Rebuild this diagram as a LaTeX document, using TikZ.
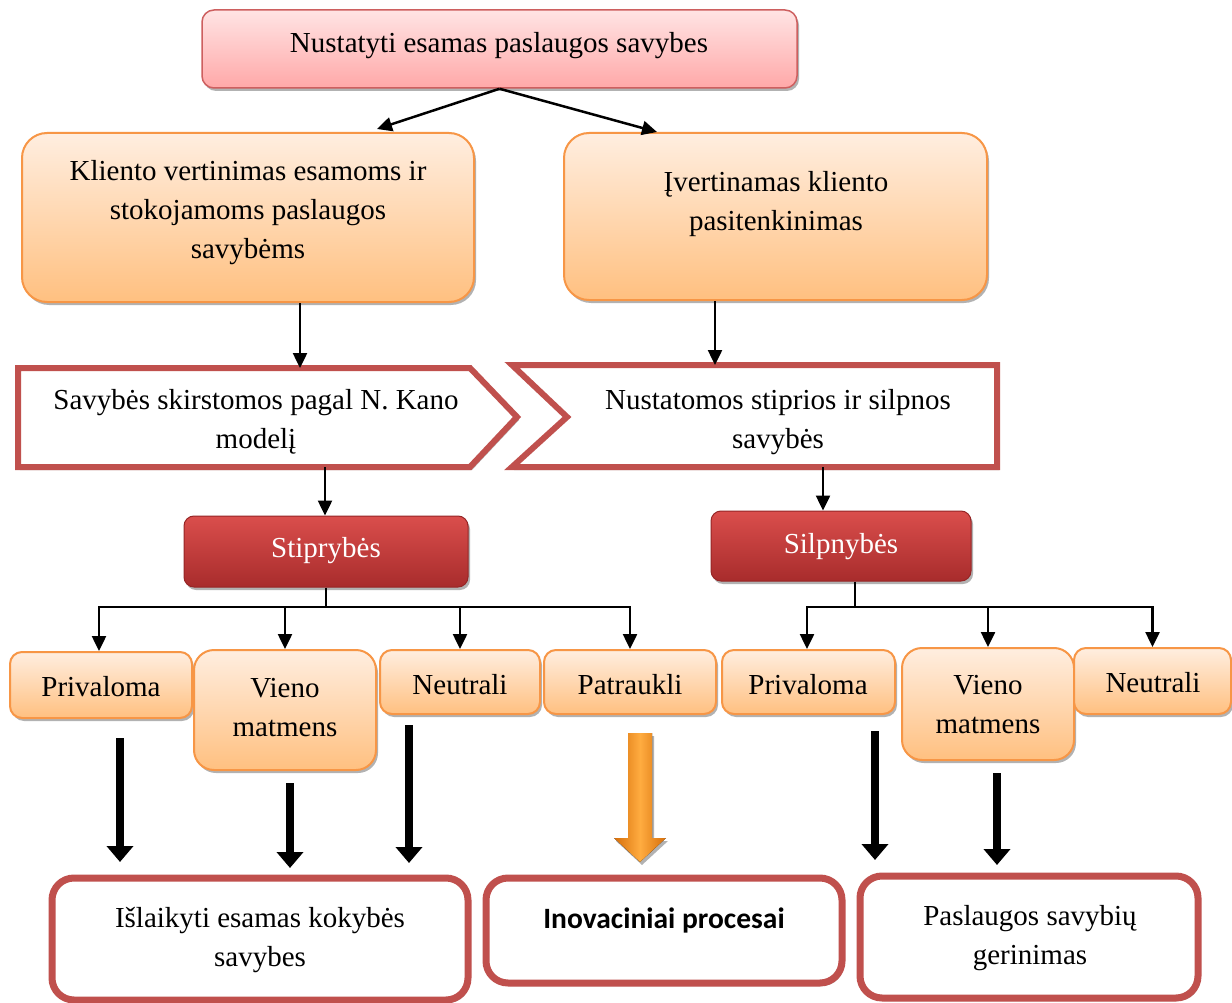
\documentclass[tikz,border=0pt]{standalone}
\usepackage{fontspec}
\setmainfont{Liberation Serif}
\newfontfamily\carl{Carlito}
\usetikzlibrary{arrows.meta,shadows,calc}
\definecolor{kred}{RGB}{192,80,77}
\definecolor{pinktop}{RGB}{255,228,228}
\definecolor{pinkbot}{RGB}{255,168,168}
\definecolor{pinkline}{RGB}{205,95,95}
\definecolor{otop}{RGB}{255,238,224}
\definecolor{obot}{RGB}{255,192,128}
\definecolor{oline}{RGB}{247,150,70}
\definecolor{rtop}{RGB}{218,78,76}
\definecolor{rbot}{RGB}{168,44,44}
\definecolor{rline}{RGB}{150,38,38}
\definecolor{arrD}{RGB}{214,110,10}
\definecolor{arrL}{RGB}{255,172,64}
\tikzset{
  shd/.style={drop shadow={shadow xshift=2pt,shadow yshift=-3pt,opacity=0.3,fill=black}},
  pinkbox/.style={draw=pinkline,line width=1.5pt,rounded corners=12pt,top color=pinktop,bottom color=pinkbot,shd},
  obox/.style={draw=oline,line width=2pt,top color=otop,bottom color=obot,shd},
  rbox/.style={draw=rline,line width=1pt,rounded corners=10pt,top color=rtop,bottom color=rbot,shd},
  wbox/.style={draw=kred,line width=7pt,rounded corners=22pt,fill=white,shd},
  chev/.style={draw=kred,line width=6pt,fill=white,shd},
  txt/.style={align=center,font=\fontsize{29}{39}\selectfont,inner sep=0pt,yshift=-3pt},
  tarrow/.style={line width=2.5pt,-{Triangle[width=14pt,length=15pt]}},
  fat/.style={line width=8pt,-{Triangle[width=26pt,length=16pt]}},
}
\begin{document}
\begin{tikzpicture}[x=1pt,y=-1pt]
\useasboundingbox (0,0) rectangle (1232,1003);
\fill[white] (0,0) rectangle (1232,1003);

% top
\node[pinkbox,minimum width=595pt,minimum height=78pt] (top) at (499.5,49) {};
\node[txt] (topt) at (499,43) {Nustatyti esamas paslaugos savybes};

% second row
\node[obox,rounded corners=25pt,minimum width=452pt,minimum height=169pt] (kl) at (248,217.5) {};
\node[txt] (klt) at (248,209.5) {Kliento vertinimas esamoms ir\\stokojamoms paslaugos\\savybėms};
\node[obox,rounded corners=25pt,minimum width=423pt,minimum height=167pt] (iv) at (775.5,216.5) {};
\node[txt] (ivt) at (776,201.5) {Įvertinamas kliento\\pasitenkinimas};

\draw[tarrow] (top.south) -- ([xshift=129pt,yshift=3pt]kl.north);
\draw[tarrow] (top.south) -- ([xshift=-118.5pt]iv.north);

% chevrons
\draw[chev] (18,368) -- (470,368) -- (517,417) -- (470,467) -- (18,467) -- cycle;
\node[txt] (kano) at (256,418.5) {Savybės skirstomos pagal N. Kano\\modelį};
\draw[chev] (512,365) -- (997,365) -- (997,467) -- (512,467) -- (567,417) -- cycle;
\node[txt] (nust) at (778,419) {Nustatomos stiprios ir silpnos\\savybės};

\coordinate (a1e) at (300,368);
\coordinate (a2e) at (715,365);
\draw[tarrow] (kl.south -| a1e) -- (a1e);
\draw[tarrow] (iv.south -| a2e) -- (a2e);

% red boxes
\node[rbox,minimum width=284pt,minimum height=71pt] (stip) at (326,551.5) {};
\node[txt,text=white] (stipt) at (326,548) {Stiprybės};
\node[rbox,minimum width=260pt,minimum height=70pt] (silp) at (841,546) {};
\node[txt,text=white] (silpt) at (841,544) {Silpnybės};

\coordinate (b1s) at (325,467);
\coordinate (b2s) at (823,467);
\draw[tarrow] (b1s) -- (b1s |- stip.north);
\draw[tarrow] (b2s) -- (b2s |- silp.north);

% third row
\node[obox,rounded corners=12pt,minimum width=182pt,minimum height=66pt] (pl) at (101,685) {};
\node[txt] (plt) at (101,684) {Privaloma};
\node[obox,rounded corners=20pt,minimum width=182pt,minimum height=120pt] (vl) at (285,710) {};
\node[txt] (vlt) at (285,704.5) {Vieno\\matmens};
\node[obox,rounded corners=12pt,minimum width=160pt,minimum height=64pt] (nl) at (460,682) {};
\node[txt] (nlt) at (460,682) {Neutrali};
\node[obox,rounded corners=12pt,minimum width=172pt,minimum height=64pt] (pa) at (630,682) {};
\node[txt] (pat) at (630,682) {Patraukli};
\node[obox,rounded corners=12pt,minimum width=173pt,minimum height=64pt] (pr) at (808.5,682) {};
\node[txt] (prt) at (808,682) {Privaloma};
\node[obox,rounded corners=20pt,minimum width=172pt,minimum height=112pt] (vr) at (988,704) {};
\node[txt] (vrt) at (988,701.5) {Vieno\\matmens};
\node[obox,rounded corners=12pt,minimum width=157pt,minimum height=66pt] (nr) at (1152.5,681) {};
\node[txt] (nrt) at (1153,680) {Neutrali};

% tree connectors
\coordinate (sj) at (326,607);
\draw[line width=2.5pt] (stip.south) -- (sj);
\draw[tarrow] (sj) -| ([xshift=-2pt]pl.north);
\draw[tarrow] (sj) -| (vl.north);
\draw[tarrow] (sj) -| (nl.north);
\draw[tarrow] (sj) -| (pa.north);
\coordinate (wj) at (855,607);
\draw[line width=2.5pt] (wj |- silp.south) -- (wj);
\draw[tarrow] (wj) -| ([xshift=-1.5pt]pr.north);
\draw[tarrow] (wj) -| (vr.north);
\draw[tarrow] (wj) -| (nr.north);

% bottom boxes
\node[wbox,minimum width=416pt,minimum height=122pt] (bl) at (260,939) {};
\node[txt] (blt) at (260,937.5) {Išlaikyti esamas kokybės\\savybes};
\node[wbox,minimum width=356pt,minimum height=105pt] (bm) at (664,930.5) {};
\node[txt,font=\carl\bfseries\fontsize{29.5}{39}\selectfont] (bmt) at (664,917) {Inovaciniai procesai};
\node[wbox,minimum width=338pt,minimum height=122pt] (br) at (1029,937) {};
\node[txt] (brt) at (1030,935.5) {Paslaugos savybių\\gerinimas};

% thick arrows
\coordinate (f1s) at (120,738); \coordinate (f1e) at (120,862);
\coordinate (f2s) at (290,783); \coordinate (f2e) at (290,868);
\coordinate (f3s) at (409,725); \coordinate (f3e) at (409,863);
\coordinate (f4s) at (875,731); \coordinate (f4e) at (875,860);
\coordinate (f5s) at (997,773); \coordinate (f5e) at (997,865);
\draw[fat] (f1s) -- (f1e);
\draw[fat] (f2s) -- (f2e);
\draw[fat] (f3s) -- (f3e);
\draw[fat] (f4s) -- (f4e);
\draw[fat] (f5s) -- (f5e);

% orange arrow
\fill[left color=arrD,right color=arrD,middle color=arrL,shd]
  (628,733) -- (652,733) -- (652,838) -- (666,838) -- (640,862) -- (614,838) -- (628,838) -- cycle;
\end{tikzpicture}
\end{document}
